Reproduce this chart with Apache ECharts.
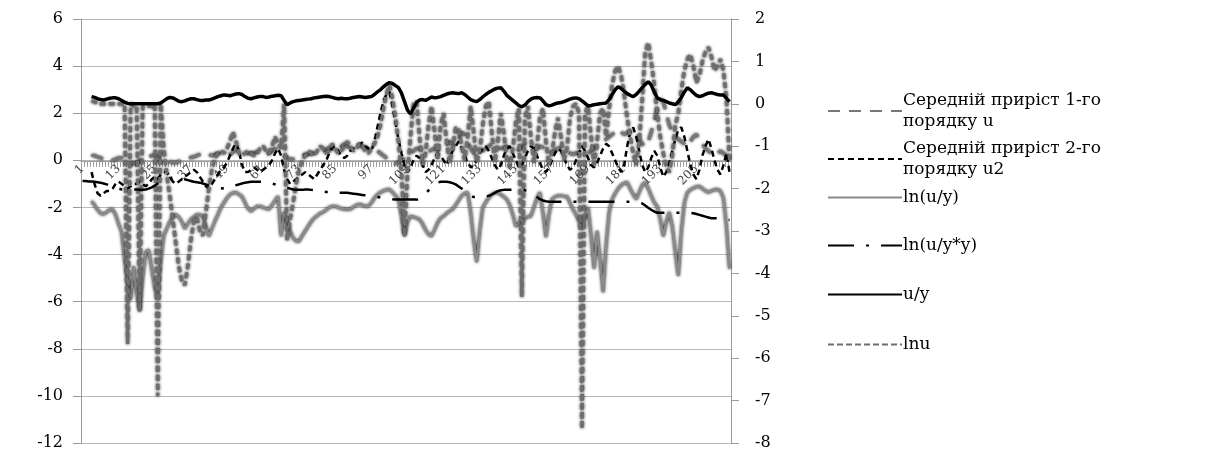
<!DOCTYPE html>
<html>
<head>
<meta charset="utf-8">
<title>chart</title>
<script src="https://cdn.jsdelivr.net/npm/echarts@6/dist/echarts.min.js"></script>
<style>
  html, body { margin: 0; padding: 0; background: #fff; }
  #echart1 { width: 1210px; height: 452px; }
</style>
</head>
<body>
<div id="echart1"></div>
<script>
// категорії 1..216
var categories = [];
for (var k = 1; k <= 216; k++) categories.push(String(k));

var leftTicks = [-12, -10, -8, -6, -4, -2, 0, 2, 4, 6];
var rightTicks = [-8, -7, -6, -5, -4, -3, -2, -1, 0, 1, 2];

// Середній приріст 1-го порядку u (ліва вісь)
var sr1 = [null, null, null,
  .2, .2, .15, .1, .05, 0, -.05, 0, .05, .1, .1, .05,
  0, -.1, -.15, -.1, 0, .05, .1, .15, .2, .2, .15, .1,
  .05, 0, -.05, -.1, -.1, -.05, 0, .05, .1, .12, .15, .2,
  .25, .3, .3, .25, .2, .25, .3, .3, .25, .2, .25, .35,
  .45, .5, .45, .35, .3, .3, .32, .35, .35, .3, .25, .3,
  .4, .5, .45, .3, .2, .1, .05, .05, .1, .15, .2, .25,
  .25, .3, .3, .35, .4, .4, .45, .55, .5, .4, .45, .6,
  .7, .6, .5, .5, .6, .65, .6, .55, .5, .5, .45, .4,
  .3, .2, .1, 0, -.1, -.15, -.1, 0, .1, .2, .3, .4,
  .5, .5, .4, .3, .35, .45, .5, .45, .4, .5, .65, .8,
  .7, .6, .9, 1.2, 1.1, .8, .5, .3, .2, .3, .4, .5,
  .6, .7, .65, .55, .5, .55, .6, .5, .4, .35, .45, .6,
  .7, .6, .5, .45, .5, .6, .55, .4, .3, .35, .45, .5,
  .55, .5, .4, .3, .25, .3, .35, .3, .25, .3, .4, .5,
  .6, .7, .8, .9, 1.0, 1.1, 1.2, 1.3, 1.2, 1.1, 1.15, 1.25,
  1.3, 1.1, .9, .7, .6, .8, 1.2, 1.7, 2.2, 2.6, 2.5, 2.0,
  1.5, 1.2, 1.0, .9, .8, .7, .6, .8, 1.0, 1.1, .9, .7,
  .5, .4, .3, .2, .3, .4, .3, .2, .1];

// Середній приріст 2-го порядку u2 (ліва вісь)
var sr2 = [null, null, null,
  -.5, -1.0, -1.4, -1.5, -1.4, -1.3, -1.3, -1.2, -1.0, -.9, -1.0, -1.1,
  -1.2, -1.1, -1.0, -1.0, -.9, -1.0, -1.1, -1.0, -.8, -.7, -.8, -.6,
  -.5, -.5, -.7, -.9, -1.0, -.9, -.8, -.7, -.6, -.5, -.4, -.5,
  -.7, -.9, -1.1, -1.2, -1.0, -.8, -.6, -.4, -.3, -.1, .2, .5,
  .75, .4, -.2, -.5, -.5, -.4, -.3, -.4, -.5, -.4, -.3, -.2,
  0, .3, .5, .2, -.4, -.8, -1.0, -.9, -.8, -.7, -.6, -.5,
  -.6, -.7, -.8, -.6, -.4, -.2, 0, .3, .55, .6, .4, .2,
  .1, .2, .4, .5, .6, .7, .75, .6, .5, .4, .8, 1.4,
  2.0, 2.5, 2.8, 2.9, 2.3, 1.6, .9, .3, -.2, -.5, -.3, 0,
  .2, .1, -.2, -.5, -.4, -.2, .1, .3, .2, 0, -.2, .1,
  .4, .6, .8, .5, .2, -.1, -.3, -.2, 0, .3, .5, .6,
  .4, .1, -.2, -.4, -.2, .2, .5, .6, .3, 0, -.3, -.2,
  .1, .4, .6, .5, .2, -.1, -.4, -.5, -.3, 0, .3, .5,
  .4, .1, -.2, -.4, -.3, 0, .3, .6, .4, .1, -.2, -.3,
  -.1, .2, .5, .7, .6, .3, 0, -.3, -.5, -.2, .6, 1.2,
  1.4, 1.0, .4, -.2, -.5, -.3, .1, .4, .2, -.3, -.7, -.5,
  -.1, .4, .9, 1.3, 1.4, 1.0, .4, -.2, -.6, -.8, -.4, .2,
  .6, .9, .5, 0, -.4, -.6, -.2, .3, -.5];

// ln(u/y) (ліва вісь)
var lnUY = [null, null, null,
  -1.74, -1.9, -2.1, -2.25, -2.29, -2.2, -2.1, -2.08, -2.3, -2.7, -3.05, -4.2,
  -5.2, -5.9, -4.5, -5.6, -6.4, -5.0, -3.9, -3.8, -4.6, -5.4, -5.9, -4.3,
  -3.2, -2.9, -2.6, -2.4, -2.3, -2.4, -2.6, -2.9, -2.7, -2.5, -2.4, -2.3,
  -2.3, -2.37, -2.8, -3.22, -2.9, -2.58, -2.3, -2.0, -1.8, -1.6, -1.45, -1.38,
  -1.36, -1.45, -1.53, -1.8, -2.05, -2.16, -2.05, -1.95, -1.95, -2.0, -2.05, -2.08,
  -1.9, -1.7, -1.53, -3.22, -2.2, -2.6, -3.0, -3.3, -3.43, -3.43, -3.2, -3.0,
  -2.8, -2.6, -2.45, -2.35, -2.25, -2.2, -2.1, -2.0, -1.95, -1.95, -2.0, -2.05,
  -2.08, -2.08, -2.08, -1.98, -1.9, -1.86, -1.9, -1.95, -1.95, -1.8, -1.6, -1.45,
  -1.36, -1.3, -1.25, -1.23, -1.35, -1.5, -1.65, -2.4, -3.22, -2.6, -2.37, -2.4,
  -2.45, -2.5, -2.7, -2.95, -3.15, -3.22, -2.95, -2.65, -2.45, -2.37, -2.25, -2.15,
  -2.08, -1.9, -1.7, -1.5, -1.4, -1.36, -2.2, -3.4, -4.32, -3.0, -2.0, -1.78,
  -1.6, -1.45, -1.38, -1.36, -1.45, -1.55, -1.65, -1.9, -2.3, -2.8, -2.7, -2.55,
  -2.45, -2.4, -2.37, -2.0, -1.6, -1.36, -2.2, -3.26, -2.3, -1.65, -1.55, -1.5,
  -1.5, -1.52, -1.53, -1.8, -2.08, -2.3, -2.6, -2.9, -2.4, -2.0, -3.2, -4.6,
  -3.0, -4.2, -5.6, -3.6, -2.2, -1.65, -1.4, -1.2, -1.05, -0.97, -0.93, -1.2,
  -1.45, -1.65, -1.35, -1.05, -0.93, -1.2, -1.5, -1.8, -1.95, -2.5, -3.22, -2.6,
  -2.2, -2.8, -3.9, -4.9, -3.0, -1.8, -1.36, -1.25, -1.18, -1.12, -1.1, -1.2,
  -1.3, -1.36, -1.3, -1.25, -1.23, -1.3, -1.6, -2.8, -4.6];

// ln(u/y*y) (права вісь)
var lnUYY = [
  -1.82, -1.82, -1.83, -1.83, -1.84, -1.85, -1.86, -1.88, -1.9, -1.93, -1.96, -1.98,
  -2.0, -2.02, -2.03, -2.03, -2.03, -2.02, -2.02, -2.03, -2.03, -2.02, -2.0, -1.97,
  -1.93, -1.88, -1.84, -1.8, -1.77, -1.75, -1.74, -1.73, -1.74, -1.76, -1.78, -1.8,
  -1.82, -1.84, -1.85, -1.86, -1.88, -1.9, -1.93, -1.95, -1.97, -1.98, -1.99, -2.0,
  -1.98, -1.96, -1.94, -1.92, -1.9, -1.88, -1.86, -1.85, -1.84, -1.84, -1.84, -1.84,
  -1.84, -1.85, -1.86, -1.88, -1.9, -1.92, -1.94, -1.96, -1.98, -2.0, -2.02, -2.03,
  -2.03, -2.03, -2.02, -2.02, -2.03, -2.04, -2.05, -2.06, -2.07, -2.08, -2.08, -2.09,
  -2.1, -2.1, -2.1, -2.1, -2.1, -2.11, -2.12, -2.13, -2.14, -2.15, -2.16, -2.17,
  -2.18, -2.19, -2.2, -2.21, -2.22, -2.23, -2.24, -2.25, -2.26, -2.26, -2.26, -2.26,
  -2.26, -2.26, -2.26, -2.26, -2.25, -2.2, -2.12, -2.04, -1.96, -1.9, -1.86, -1.84,
  -1.84, -1.84, -1.85, -1.87, -1.9, -1.95, -2.0, -2.06, -2.12, -2.17, -2.2, -2.2,
  -2.2, -2.2, -2.19, -2.17, -2.14, -2.1, -2.06, -2.04, -2.03, -2.03, -2.03, -2.03,
  -2.03, -2.03, -2.03, -2.04, -2.06, -2.1, -2.15, -2.2, -2.25, -2.28, -2.3, -2.31,
  -2.31, -2.31, -2.31, -2.31, -2.31, -2.31, -2.31, -2.31, -2.31, -2.31, -2.31, -2.31,
  -2.31, -2.31, -2.31, -2.31, -2.31, -2.31, -2.31, -2.31, -2.31, -2.31, -2.31, -2.31,
  -2.31, -2.31, -2.31, -2.31, -2.31, -2.32, -2.35, -2.4, -2.45, -2.5, -2.54, -2.57,
  -2.57, -2.57, -2.57, -2.57, -2.57, -2.57, -2.57, -2.57, -2.57, -2.57, -2.57, -2.58,
  -2.6, -2.62, -2.64, -2.66, -2.68, -2.7, -2.7, -2.7, -2.71, -2.72, -2.73, -2.74];

// u/y (права вісь)
var uY = [null, null, null,
  .17, .15, .12, .10, .09, .11, .13, .14, .14, .12, .08, .04,
  .01, 0, 0, 0, 0, 0, 0, 0, 0, 0, 0, .02,
  .07, .12, .15, .14, .1, .06, .05, .07, .1, .12, .12, .1,
  .08, .08, .09, .09, .11, .14, .17, .19, .21, .2, .19, .21,
  .23, .24, .22, .17, .13, .12, .14, .16, .17, .17, .15, .16,
  .18, .19, .2, .19, .08, -.02, .02, .05, .07, .08, .09, .1,
  .11, .12, .14, .15, .16, .17, .18, .17, .15, .13, .12, .13,
  .12, .12, .13, .15, .16, .17, .16, .15, .16, .17, .22, .28,
  .33, .4, .46, .5, .48, .43, .38, .25, .05, -.15, -.24, -.1,
  .03, .09, .1, .08, .12, .16, .14, .15, .17, .2, .23, .25,
  .26, .25, .24, .26, .22, .16, .1, .07, .05, .1, .16, .22,
  .27, .31, .35, .37, .38, .3, .2, .14, .08, .02, -.04, -.07,
  -.03, .05, .11, .14, .15, .14, .07, -.02, -.05, -.03, 0, .02,
  .03, .05, .08, .11, .13, .14, .12, .07, .01, -.05, -.04, -.02,
  -.01, 0, .01, .02, .1, .22, .33, .4, .36, .3, .24, .2,
  .17, .22, .3, .38, .46, .52, .44, .28, .14, .1, .08, .05,
  .02, 0, -.02, .05, .15, .28, .38, .33, .26, .2, .17, .19,
  .22, .25, .26, .24, .22, .21, .21, .13, .05];

// lnu (ліва вісь)
var lnu = [null, null, null,
  2.5, 2.5, 2.4, 2.4, 2.4, 2.4, 2.4, 2.4, 2.4, 2.4, 2.4, 2.4,
  -7.8, 2.4, 2.3, 2.3, -6.4, 2.3, 2.3, 2.3, 2.3, 2.4, -10, 2.4,
  0.5, -0.6, -1.5, -2.5, -3.5, -4.5, -5.1, -5.3, -4.5, -3.4, -2.6, -2.4,
  -3.0, -3.2, -2.2, -1.2, -0.4, 0.1, 0.3, 0.4, 0.3, 0.5, 0.8, 1.2,
  0.8, 0.3, 0.2, 0.3, 0.4, 0.3, 0.2, 0.3, 0.5, 0.6, 0.4, 0.3,
  0.6, 1.0, 0.7, 0.5, 2.4, -3.4, -2.5, -1.8, -1.0, -0.4, 0.0, 0.2,
  0.4, 0.3, 0.2, 0.4, 0.6, 0.5, 0.3, 0.4, 0.7, 0.5, 0.3, 0.4,
  0.6, 0.8, 0.6, 0.4, 0.5, 0.7, 0.6, 0.4, 0.3, 0.5, 0.7, 1.0,
  1.5, 2.2, 2.8, 3.2, 2.6, 1.8, 0.8, -0.5, -3.2, -0.5, 1.0, 2.4,
  2.5, 1.0, -0.2, 0.3, 1.5, 2.3, 1.2, 0.0, 1.5, 2.0, 0.8, -0.1,
  0.5, 1.4, 1.3, 0.6, 0.0, 1.0, 2.3, 1.2, -0.1, 0.4, 1.5, 2.3,
  2.5, 1.2, -0.1, 0.8, 2.0, 1.2, 0.0, -0.3, 0.5, 1.6, 2.2, -5.8,
  1.8, 2.3, 1.0, -0.1, 0.6, 1.8, 2.2, 0.8, -0.2, 0.3, 1.2, 1.8,
  1.0, 0.0, 0.5, 1.8, 2.3, 2.4, 2.0, -11.4, 2.0, 2.3, 1.0, -0.2,
  0.8, 2.0, 2.2, 1.0, 2.2, 3.2, 3.8, 4.0, 3.6, 2.8, 1.8, 1.0,
  0.3, -0.2, 0.8, 2.6, 4.6, 5.0, 4.2, 3.2, 2.0, 1.0, 0.3, -0.3,
  -0.5, 0.2, 1.5, 2.0, 3.0, 3.8, 4.3, 4.5, 4.0, 3.3, 3.6, 4.2,
  4.6, 4.8, 4.4, 3.8, 4.0, 4.3, 3.8, 2.6, 0.0];

var names = ['Середній приріст 1-го порядку u', 'Середній приріст 2-го порядку u2',
  'ln(u/y)', 'ln(u/y*y)', 'u/y', 'lnu'];

echarts_1();

function echarts_1() {
    var myChart = echarts.init(document.getElementById('echart1'));
    var font = 'DejaVu Serif';

    // одна легенда на кожен ряд, щоб поставити їх як в оригіналі
    var legendTops = [90, 138, 187, 235, 284, 334];
    var legends = names.map(function (n, i) {
        return {
            data: [n],
            orient: 'vertical',
            left: 827,
            top: legendTops[i],
            padding: 0,
            itemWidth: 74,
            itemHeight: 12,
            itemGap: 0,
            itemStyle: { opacity: 0 },
            formatter: function (name) {
                return name.replace(' порядку', '\nпорядку');
            },
            textStyle: { fontFamily: font, fontSize: 17, color: '#000', lineHeight: 21, padding: [0, 0, 0, -4] }
        };
    });

    var outline = { shadowColor: 'rgba(0,0,0,1)', shadowBlur: 3 };

    var option = {
        animation: false,
        backgroundColor: '#fff',
        legend: legends,
        grid: { left: 81, right: 479, top: 19, bottom: 9, outerBoundsMode: 'none', containLabel: false },
        xAxis: {
            type: 'category',
            data: categories,
            boundaryGap: true,
            offset: -282,   // вісь категорій проходить через 0
            axisLine: { onZero: false, lineStyle: { color: '#9a9a9a', width: 1 } },
            axisTick: { show: true, interval: 0, length: 6, lineStyle: { color: '#a0a0a0' } },
            axisLabel: { interval: 11, rotate: 45, fontFamily: font, fontSize: 12, color: '#444', margin: 6 },
            splitLine: { show: false }
        },
        yAxis: [{
            type: 'value',
            min: leftTicks[0],
            max: leftTicks[leftTicks.length - 1],
            interval: 2,
            axisLine: { show: true, lineStyle: { color: '#9a9a9a' } },
            axisTick: { show: true, length: 8, lineStyle: { color: '#9a9a9a' } },
            axisLabel: { fontFamily: font, fontSize: 16, color: '#000', margin: 18 },
            splitLine: { show: true, lineStyle: { color: '#b8b8b8', width: 1 } }
        }, {
            type: 'value',
            min: rightTicks[0],
            max: rightTicks[rightTicks.length - 1],
            interval: 1,
            position: 'right',
            axisLine: { show: true, lineStyle: { color: '#9a9a9a' } },
            axisTick: { show: true, length: 8, lineStyle: { color: '#9a9a9a' } },
            axisLabel: { fontFamily: font, fontSize: 16, color: '#000', margin: 24 },
            splitLine: { show: false }
        }],
        series: [{
            name: names[0],
            type: 'line',
            yAxisIndex: 0,
            data: sr1,
            symbol: 'none',
            z: 2,
            lineStyle: Object.assign({ color: '#777', width: 3, type: [12, 9] }, outline)
        }, {
            name: names[1],
            type: 'line',
            yAxisIndex: 0,
            data: sr2,
            symbol: 'none',
            z: 3,
            lineStyle: { color: '#000', width: 2.5, type: [6, 4] }
        }, {
            name: names[2],
            type: 'line',
            yAxisIndex: 0,
            data: lnUY,
            symbol: 'none',
            z: 2,
            lineStyle: Object.assign({ color: '#8a8a8a', width: 2.5, type: 'solid' }, outline)
        }, {
            name: names[3],
            type: 'line',
            yAxisIndex: 1,
            data: lnUYY,
            symbol: 'none',
            z: 4,
            lineStyle: { color: '#000', width: 2.5, type: [26, 12, 3, 12] }
        }, {
            name: names[4],
            type: 'line',
            yAxisIndex: 1,
            data: uY,
            symbol: 'none',
            z: 5,
            lineStyle: { color: '#000', width: 3.5, type: 'solid' }
        }, {
            name: names[5],
            type: 'line',
            yAxisIndex: 0,
            data: lnu,
            symbol: 'none',
            z: 3,
            lineStyle: Object.assign({ color: '#6e6e6e', width: 3.2, type: [6, 3] }, outline)
        }]
    };
    myChart.setOption(option);
    window.addEventListener("resize", function () {
        myChart.resize();
    });
}
</script>
</body>
</html>
